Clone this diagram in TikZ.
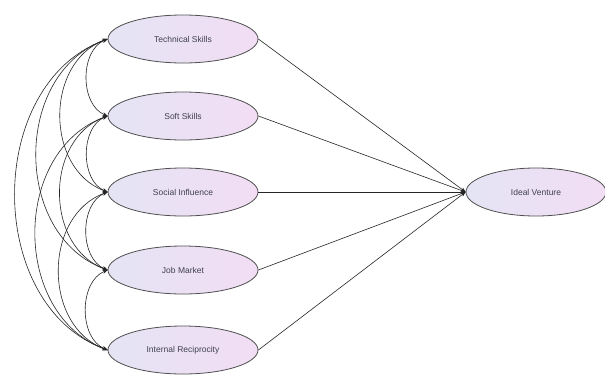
\documentclass[tikz,border=0pt]{standalone}
\usepackage{fontspec}
\setmainfont{Liberation Sans}
\usetikzlibrary{shapes.geometric,arrows.meta}
\definecolor{elleft}{HTML}{E4E4F4}
\definecolor{elright}{HTML}{F2DDF4}
\definecolor{elborder}{HTML}{505050}
\definecolor{txt}{HTML}{404050}
\tikzset{
  latent/.style={ellipse, draw=elborder, line width=0.8pt, left color=elleft, right color=elright,
    minimum width=150pt, minimum height=48pt, inner sep=0pt,
    font=\fontsize{8.5}{10}\selectfont, text=txt},
  target/.style={latent, minimum width=140pt},
  path/.style={draw=black!85, line width=0.6pt, -{Stealth[length=5pt,width=4pt]}},
  cov/.style={draw=black!85, line width=0.6pt, {Stealth[length=5pt,width=4pt]}-{Stealth[length=5pt,width=4pt]}}
}
\begin{document}
\begin{tikzpicture}[x=1pt,y=-1pt]
\fill[white] (0,0) rectangle (605,378);
\useasboundingbox (0,0) rectangle (605,378);
\node[latent] (n1) at (183,39) {Technical Skills};
\node[latent] (n2) at (183,116) {Soft Skills};
\node[latent] (n3) at (183,192) {Social Influence};
\node[latent] (n4) at (183,270) {Job Market};
\node[latent] (n5) at (183,350) {Internal Reciprocity};
\node[target] (t) at (536,192) {Ideal Venture};
\foreach \n in {n1,n2,n3,n4,n5} \draw[path] (\n.east) -- (t.west);
\draw[cov] (n1.west) to[bend right=68] (n2.west);
\draw[cov] (n2.west) to[bend right=68] (n3.west);
\draw[cov] (n3.west) to[bend right=68] (n4.west);
\draw[cov] (n4.west) to[bend right=68] (n5.west);
\draw[cov] (n1.west) to[bend right=70,looseness=1.12] (n3.west);
\draw[cov] (n2.west) to[bend right=70,looseness=1.12] (n4.west);
\draw[cov] (n3.west) to[bend right=70,looseness=1.12] (n5.west);
\draw[cov] (n1.west) to[bend right=70,looseness=1.12] (n4.west);
\draw[cov] (n2.west) to[bend right=70,looseness=1.12] (n5.west);
\draw[cov] (n1.west) to[bend right=70,looseness=1.08] (n5.west);
\end{tikzpicture}
\end{document}
